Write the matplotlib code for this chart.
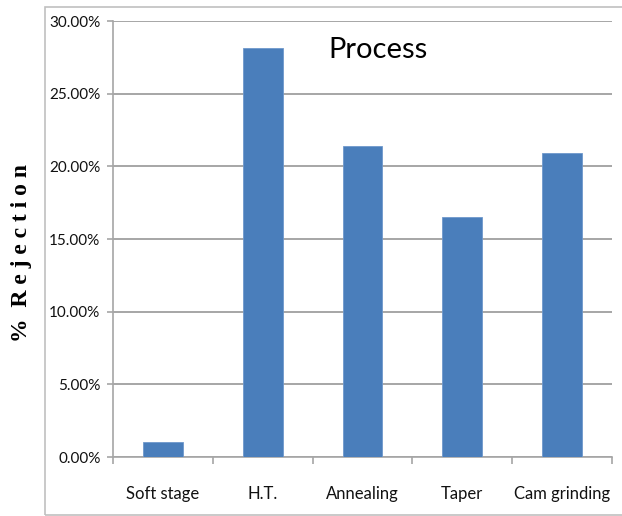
import numpy as np
import matplotlib
matplotlib.use("Agg")
import matplotlib.pyplot as plt
from matplotlib.ticker import PercentFormatter, FixedLocator
from matplotlib.patches import Rectangle

# data
processes = ["Soft stage", "H.T.", "Annealing", "Taper", "Cam grinding"]
rejection = [0.0105, 0.2817, 0.2140, 0.1654, 0.2094]
y_ticks = [0.0, 0.05, 0.10, 0.15, 0.20, 0.25, 0.30]

narrow = ["Lato", "Open Sans", "DejaVu Sans"]
bar_color = "#4a7ebb"
grid_color = "#a6a6a6"

fig = plt.figure(figsize=(6.22, 5.16), dpi=100)
ax = fig.add_axes([0.1817, 0.1143, 0.8023, 0.845])

# chart area border
fig.patches.append(Rectangle((0.0723, 0.002), 1.0, 0.9844, transform=fig.transFigure,
                             fill=False, edgecolor="#c0c0c0", linewidth=1.2, zorder=0))

x = np.arange(len(processes))
ax.bar(x, rejection, width=0.4, color=bar_color, edgecolor="#6f98cc", linewidth=0.6, zorder=3)

ax.set_xlim(-0.5, len(processes) - 0.5)
ax.set_ylim(0, 0.30)
ax.yaxis.set_major_locator(FixedLocator(y_ticks))
ax.yaxis.set_major_formatter(PercentFormatter(xmax=1.0, decimals=2))
ax.yaxis.grid(True, color=grid_color, linewidth=1.4, zorder=0)
ax.set_axisbelow(True)

ax.set_xticks(x)
ax.set_xticklabels(processes)
ax.set_xticks(np.arange(len(processes) + 1) - 0.5, minor=True)
ax.tick_params(axis="x", which="major", length=0, pad=21)
ax.tick_params(axis="x", which="minor", length=5, width=1.2, color=grid_color, direction="out")
ax.tick_params(axis="y", length=4, width=1.2, color=grid_color, direction="out", pad=5)

for lbl in ax.get_xticklabels():
    lbl.set_family(narrow)
    lbl.set_fontsize(12)
    lbl.set_color("#111111")
for lbl in ax.get_yticklabels():
    lbl.set_family(narrow)
    lbl.set_fontsize(11)
    lbl.set_color("#111111")

for side in ["top", "right"]:
    ax.spines[side].set_visible(False)
for side in ["left", "bottom"]:
    ax.spines[side].set_color(grid_color)
    ax.spines[side].set_linewidth(1.2)

ax.text(0.53, 0.933, "Process", transform=ax.transAxes, ha="center", va="center",
        fontsize=21, family=narrow, color="black")

fig.text(0.035, 0.51, "%  R e j e c t i o n",
         rotation=90, ha="center", va="center", fontsize=17, fontweight="bold",
         family=["Liberation Serif", "DejaVu Serif"], color="black")

fig.savefig("out.png", dpi=100)
